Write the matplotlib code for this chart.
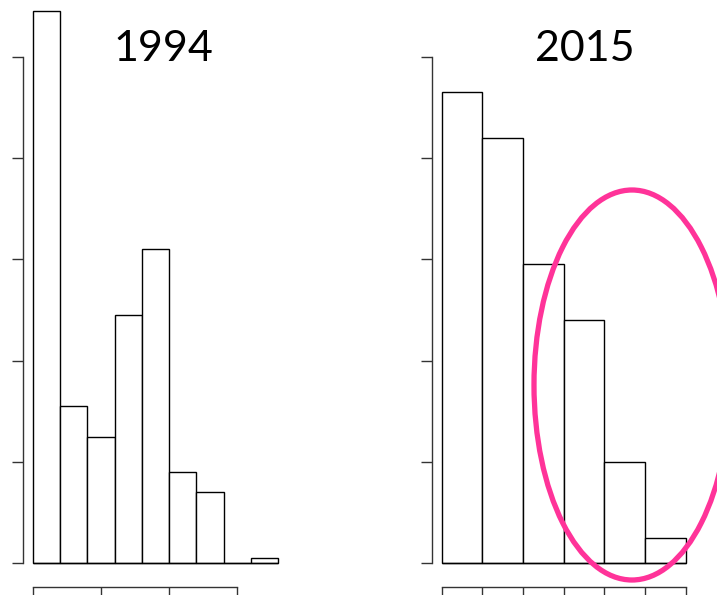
import numpy as np
import matplotlib.pyplot as plt
import matplotlib.patches as mpl_patches

# bin edges and counts
edges_1994 = np.arange(0, 20, 2)
counts_1994 = [109, 31, 25, 49, 62, 18, 14, 0, 1]
xticks_1994 = [0, 5, 10, 15]

edges_2015 = np.arange(0, 14, 2)
counts_2015 = [93, 84, 59, 48, 20, 5]
xticks_2015 = list(edges_2015)

yticks = [0, 20, 40, 60, 80, 100]
titles = ['1994', '2015']

W, H = 717, 595
px_per_count = 101.3 / 20
base_px = 563.3


def make_ax(fig, x0, x1, edges, counts, xticks):
    ymax = 110
    bottom = (H - base_px) / H
    height = ymax * px_per_count / H
    ax = fig.add_axes([x0 / W, bottom, (x1 - x0) / W, height])
    widths = np.diff(edges)
    ax.bar(edges[:-1], counts, width=widths, align='edge',
           facecolor='white', edgecolor='black', linewidth=1.0,
           clip_on=False)
    # empty bins still show their bottom edge, like R's hist
    ax.hlines(0, edges[0], edges[-1], color='black', linewidth=1.0,
              clip_on=False)
    ax.set_xlim(edges[0], edges[-1])
    ax.set_ylim(0, ymax)
    ax.set_yticks(yticks)
    ax.set_xticks(xticks)
    ax.set_yticklabels([])
    ax.set_xticklabels([])
    for s in ['top', 'right']:
        ax.spines[s].set_visible(False)
    ax.spines['left'].set_position(('outward', 7.2))
    ax.spines['bottom'].set_position(('outward', 16.8))
    ax.spines['left'].set_bounds(yticks[0], yticks[-1])
    ax.spines['bottom'].set_bounds(xticks[0], xticks[-1])
    for s in ['left', 'bottom']:
        ax.spines[s].set_linewidth(1.0)
        ax.spines[s].set_color('#333333')
    ax.tick_params(direction='out', length=8, width=1.0, color='#333333')
    ax.patch.set_visible(False)
    return ax


fig = plt.figure(figsize=(W / 100, H / 100), dpi=100)

make_ax(fig, 32.7, 278.3, edges_1994, counts_1994, xticks_1994)
make_ax(fig, 441.7, 685.7, edges_2015, counts_2015, xticks_2015)

fig.text(163 / W, 1 - 49 / H, titles[0], fontsize=31, family='Lato',
         ha='center', va='center')
fig.text(585 / W, 1 - 49 / H, titles[1], fontsize=31, family='Lato',
         ha='center', va='center')

ell = mpl_patches.Ellipse((632 / W, 1 - 385 / H), 196 / W, 390 / H,
                          transform=fig.transFigure, fill=False,
                          edgecolor='#FF3399', linewidth=3.8)
fig.patches.append(ell)

plt.savefig('out.png', dpi=100)
